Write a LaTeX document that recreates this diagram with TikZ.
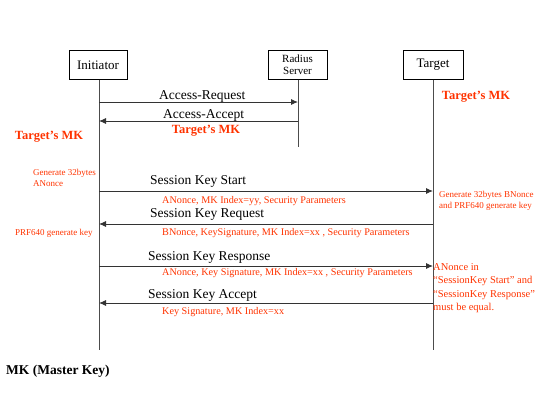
\documentclass[tikz,border=0pt]{standalone}
\usepackage{fontspec}
\setmainfont{Liberation Serif}
\usetikzlibrary{arrows.meta}
\definecolor{mkred}{RGB}{255,51,0}
\tikzstyle{entity} = [rectangle, minimum width=58pt, minimum height=29pt, text centered, draw=black, font=\fontsize{13}{14}\selectfont]
\tikzstyle{lifeline} = [draw=black!70, line width=1pt]
\tikzstyle{msg} = [draw=black!80, line width=0.9pt, -{Latex[length=7pt,width=6pt]}]
\tikzstyle{msglabel} = [anchor=west, inner sep=0pt, font=\fontsize{13.5}{14}\selectfont]
\tikzstyle{param} = [anchor=west, inner sep=0pt, text=mkred, font=\fontsize{10.2}{12}\selectfont]
\tikzstyle{note} = [anchor=north west, inner sep=0pt, align=left, text=mkred, font=\fontsize{9}{11}\selectfont]
\tikzstyle{mk} = [inner sep=0pt, text=mkred, font=\bfseries\fontsize{12.5}{14}\selectfont]

\begin{document}
\begin{tikzpicture}[x=1pt, y=-1pt]
			\useasboundingbox (0,0) rectangle (554,416);
			% entities
			\node (init) [entity] at (98,65) {Initiator};
			\node (radius) [entity, minimum width=59pt, inner sep=1pt, align=center, font=\fontsize{11}{12}\selectfont] at (297.5,65) {Radius\\Server};
			\node (target) [entity, minimum width=60pt] at (433,65) {Target};
			
			% lifelines
			\coordinate (initend) at (99,350);
			\coordinate (radiusend) at (298,147);
			\coordinate (targetend) at (433,350);
			\draw [lifeline] (init.south -| initend) -- (initend);
			\draw [lifeline] (radius.south -| radiusend) -- (radiusend);
			\draw [lifeline] (target.south) -- (targetend);
			
			% message end points
			\coordinate (req1) at (99,102);  \coordinate (req2) at (298,102);
			\coordinate (acc1) at (298,121); \coordinate (acc2) at (99,121);
			\coordinate (sks1) at (99,191);  \coordinate (sks2) at (433,191);
			\coordinate (skq1) at (433,224); \coordinate (skq2) at (99,224);
			\coordinate (skr1) at (99,266);  \coordinate (skr2) at (433,266);
			\coordinate (ska1) at (433,303); \coordinate (ska2) at (99,303);
			
			% messages
			\draw [msg] (req1) -- (req2);
			\draw [msg] (acc1) -- (acc2);
			\draw [msg] (sks1) -- (sks2);
			\draw [msg] (skq1) -- (skq2);
			\draw [msg] (skr1) -- (skr2);
			\draw [msg] (ska1) -- (ska2);
			
			\node (lreq) [msglabel] at (159,96) {Access-Request};
			\node (lacc) [msglabel] at (163,115) {Access-Accept};
			\node (lsks) [msglabel] at (150,181) {Session Key Start};
			\node (lskq) [msglabel] at (150,214) {Session Key Request};
			\node (lskr) [msglabel] at (148,257) {Session Key Response};
			\node (lska) [msglabel] at (148,295) {Session Key Accept};
			
			% parameters
			\node (psks) [param] at (162,201) {ANonce, MK Index=yy, Security Parameters};
			\node (pskq) [param] at (162,233) {BNonce, KeySignature, MK Index=xx , Security Parameters};
			\node (pskr) [param] at (162,273) {ANonce, Key Signature, MK Index=xx , Security Parameters};
			\node (pska) [param] at (162,312) {Key Signature, MK Index=xx};
			
			% keys and notes
			\node (mkt) [mk] at (476,97) {Target’s MK};
			\node (mkr) [mk] at (206,131) {Target’s MK};
			\node (mki) [mk] at (49,137) {Target’s MK};
			\node (genA) [note] at (33,169) {Generate 32bytes\\ANonce};
			\node (prfI) [note, anchor=west] at (15,233) {PRF640 generate key};
			\node (genB) [note] at (439,191) {Generate 32bytes BNonce\\and PRF640 generate key};
			\node (equal) [note, font=\fontsize{10.5}{13.5}\selectfont] at (433,263) {ANonce in\\“SessionKey Start” and\\“SessionKey Response”\\must be equal.};
			\node (mkdef) [anchor=west, inner sep=0pt, font=\bfseries\fontsize{13.5}{14}\selectfont] at (6,371) {MK (Master Key)};
\end{tikzpicture}
\end{document}
